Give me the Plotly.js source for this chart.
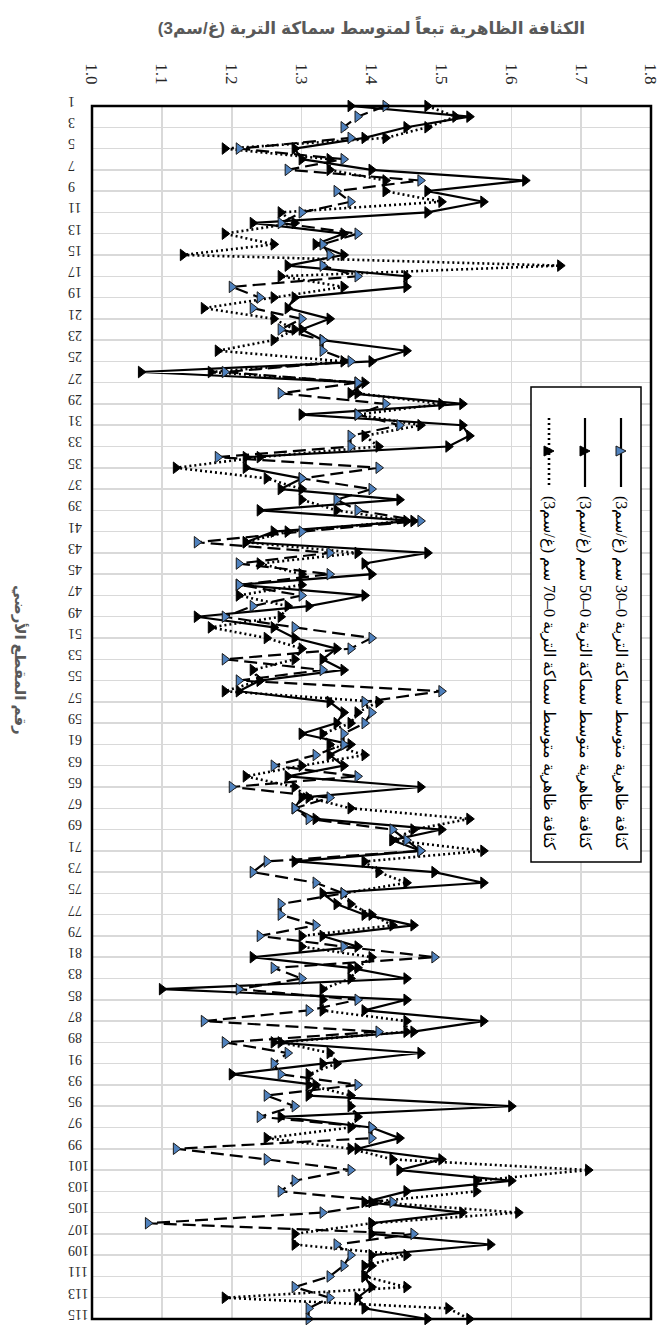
<!DOCTYPE html>
<html>
<head>
<meta charset="utf-8">
<script src="https://cdn.plot.ly/plotly-3.0.1.min.js"></script>
<style>
  html, body { margin: 0; padding: 0; background: #ffffff; }
  #chart { width: 661px; height: 1325px; }
</style>
</head>
<body>
<div id="chart"></div>
<script>
// ---- data ----
const categories = [1,2,3,4,5,6,7,8,9,10,11,12,13,14,15,16,17,18,19,20,
  21,22,23,24,25,26,27,28,29,30,31,32,33,34,35,36,37,38,39,40,
  41,42,43,44,45,46,47,48,49,50,51,52,53,54,55,56,57,58,59,60,
  61,62,63,64,65,66,67,68,69,70,71,72,73,74,75,76,77,78,79,80,
  81,82,83,84,85,86,87,88,89,90,91,92,93,94,95,96,97,98,99,100,
  101,102,103,104,105,106,107,108,109,110,111,112,113,114,115];

const density0_30 = [1.42,1.38,1.36,1.37,1.21,1.36,1.28,1.47,1.35,1.37,
  1.30,1.27,1.38,1.33,1.34,1.33,1.38,1.20,1.24,1.23,
  1.30,1.27,1.33,1.33,1.37,1.19,1.38,1.27,1.42,1.38,
  1.44,1.37,1.37,1.18,1.41,1.30,1.40,1.35,1.38,1.47,
  1.30,1.15,1.34,1.21,1.34,1.21,1.30,1.23,1.19,1.29,
  1.40,1.37,1.19,1.33,1.21,1.50,1.39,1.40,1.39,1.36,
  1.36,1.32,1.26,1.38,1.20,1.34,1.29,1.31,1.43,1.45,
  1.47,1.25,1.23,1.32,1.36,1.27,1.27,1.32,1.24,1.36,
  1.49,1.26,1.30,1.21,1.38,1.31,1.16,1.41,1.19,1.28,
  1.26,1.27,1.38,1.25,1.29,1.24,1.40,1.40,1.12,1.25,
  1.37,1.29,1.27,1.43,1.33,1.08,1.46,1.35,1.37,1.36,
  1.34,1.29,1.34,1.31,1.31];

const density0_50 = [1.37,1.54,1.45,1.39,1.29,1.30,1.40,1.62,1.48,1.56,
  1.48,1.23,1.36,1.32,1.36,1.28,1.45,1.45,1.29,1.28,
  1.34,1.30,1.33,1.45,1.40,1.07,1.39,1.37,1.53,1.30,
  1.53,1.54,1.51,1.22,1.22,1.30,1.27,1.44,1.24,1.46,
  1.26,1.22,1.48,1.39,1.40,1.21,1.39,1.31,1.15,1.26,
  1.29,1.35,1.33,1.36,1.24,1.21,1.34,1.36,1.35,1.30,
  1.37,1.34,1.36,1.28,1.47,1.30,1.29,1.32,1.50,1.43,
  1.47,1.29,1.49,1.56,1.33,1.35,1.39,1.46,1.33,1.38,
  1.23,1.37,1.45,1.10,1.45,1.39,1.56,1.46,1.26,1.47,
  1.33,1.20,1.32,1.31,1.60,1.27,1.40,1.44,1.38,1.50,
  1.44,1.60,1.45,1.39,1.53,1.40,1.40,1.57,1.40,1.40,
  1.39,1.40,1.38,1.39,1.48];

const density0_70 = [1.48,1.52,1.48,1.42,1.19,1.34,1.34,1.42,1.42,1.50,
  1.27,1.29,1.19,1.26,1.13,1.67,1.27,1.36,1.26,1.16,
  1.26,1.29,1.26,1.18,1.36,1.17,1.38,1.38,1.50,1.38,
  1.47,1.39,1.41,1.24,1.12,1.25,1.30,1.30,1.35,1.45,
  1.28,1.22,1.38,1.24,1.30,1.30,1.21,1.28,1.27,1.17,
  1.25,1.30,1.29,1.23,1.24,1.19,1.41,1.38,1.37,1.33,
  1.34,1.39,1.30,1.22,1.29,1.31,1.37,1.54,1.46,1.43,
  1.56,1.39,1.41,1.45,1.36,1.37,1.40,1.43,1.30,1.30,
  1.40,1.38,1.37,1.33,1.33,1.33,1.45,1.45,1.27,1.34,
  1.35,1.31,1.31,1.37,1.37,1.38,1.37,1.25,1.37,1.43,
  1.71,1.55,1.55,1.40,1.61,1.40,1.29,1.29,1.45,1.39,
  1.39,1.45,1.19,1.51,1.54];

const seriesNames = [
  "كثافة ظاهرية متوسط سماكة التربة 0–30 سم (غ/سم3)",
  "كثافة ظاهرية متوسط سماكة التربة 0–50 سم (غ/سم3)",
  "كثافة ظاهرية متوسط سماكة التربة 0–70 سم (غ/سم3)"
];
const valueTicks = [1.0, 1.1, 1.2, 1.3, 1.4, 1.5, 1.6, 1.7, 1.8];
const chartTitle = "الكثافة الظاهرية تبعاً لمتوسط سماكة التربة (غ/سم3)";
const categoryTitle = "رقم المقطع الأرضي";

// ---- helpers ----
const rtl = s => "\u202B" + s + "\u202C";
const categoryTicks = categories.filter(c => c % 2 === 1);

// plot area geometry (pixels)
const W = 661, H = 1325;
const M = {l: 92, r: 10, t: 106, b: 6};
const PW = W - M.l - M.r, PH = H - M.t - M.b;
const px = x => (x - M.l) / PW;
const py = y => 1 - (y - M.t) / PH;

const serif = "Liberation Serif, Times New Roman, DejaVu Serif, serif";
const sans = "Liberation Sans, Arial, DejaVu Sans, sans-serif";

const styles = [
  {dash: "13px,6px", width: 2.2, mfill: "#4f81bd", mline: "#1a1a1a"},
  {dash: "solid", width: 2.2, mfill: "#000000", mline: "#000000"},
  {dash: "2px,3px", width: 2.6, mfill: "#000000", mline: "#000000"}
];
const seriesValues = [density0_30, density0_50, density0_70];

const traces = [2, 1, 0].map(i => ({
  type: "scatter",
  mode: "lines+markers",
  x: seriesValues[i],
  y: categories,
  name: seriesNames[i],
  showlegend: false,
  cliponaxis: false,
  line: {color: "#000000", width: styles[i].width, dash: styles[i].dash},
  marker: {symbol: "triangle-right", size: 10, color: styles[i].mfill,
           line: {color: styles[i].mline, width: 1}}
}));

// ---- manual rotated legend ----
const legendCols = [621, 585, 549];
const shapes = [
  {type: "rect", xref: "paper", yref: "paper", x0: 0, x1: 1, y0: 0, y1: 1,
   line: {color: "#000000", width: 2.5}, layer: "above"},
  {type: "rect", xref: "paper", yref: "paper", x0: px(531), x1: px(641), y0: py(862), y1: py(387),
   line: {color: "#000000", width: 1.5}, fillcolor: "#ffffff", layer: "above"}
];
const annotations = [
  {xref: "paper", yref: "paper", x: px(20), y: py(660), text: rtl(categoryTitle),
   textangle: 90, showarrow: false, xanchor: "center", yanchor: "middle",
   font: {family: sans, size: 15, color: "#595959", weight: "bold"}}
];
legendCols.forEach((cx, i) => {
  shapes.push({type: "line", xref: "paper", yref: "paper", x0: px(cx), x1: px(cx),
    y0: py(418), y1: py(487), line: {color: "#000000", width: styles[i].width,
    dash: i === 0 ? "solid" : styles[i].dash}, layer: "above"});
  shapes.push({type: "path", xref: "paper", yref: "paper", xsizemode: "pixel", ysizemode: "pixel",
    xanchor: px(cx), yanchor: py(451), path: "M-5,-5 L5,0 L-5,5 Z",
    fillcolor: styles[i].mfill, line: {color: styles[i].mline, width: 1}, layer: "above"});
  annotations.push({xref: "paper", yref: "paper", x: px(cx), y: py(673), text: rtl(seriesNames[i]),
    textangle: 90, showarrow: false, xanchor: "center", yanchor: "middle",
    font: {family: serif, size: 16, color: "#000000"}});
});

const layout = {
  width: W, height: H,
  margin: M,
  paper_bgcolor: "#ffffff", plot_bgcolor: "#ffffff",
  showlegend: false,
  title: {text: rtl(chartTitle), x: 0.5, xref: "paper", xanchor: "center",
          y: 1 - 28 / H, yref: "container", yanchor: "middle",
          font: {family: sans, size: 17, color: "#595959", weight: "bold"}},
  xaxis: {side: "top", range: [1.0, 1.8], tickvals: valueTicks, tickformat: ".1f",
          tickangle: 90, showgrid: true, gridcolor: "#d9d9d9", gridwidth: 1.5,
          zeroline: false, showline: false, ticks: "", ticklabelstandoff: 18,
          ticklabeloverflow: "allow",
          tickfont: {family: serif, size: 17, color: "#262626"}, fixedrange: true},
  yaxis: {range: [115, 1], tickvals: categoryTicks, tickangle: 180,
          showgrid: true, gridcolor: "#d9d9d9", gridwidth: 1.5,
          zeroline: false, showline: false, ticks: "", ticklabelstandoff: 23,
          ticklabeloverflow: "allow",
          tickfont: {family: serif, size: 14, color: "#262626"}, fixedrange: true},
  shapes: shapes,
  annotations: annotations
};

Plotly.newPlot("chart", traces, layout, {displayModeBar: false, staticPlot: true});
</script>
</body>
</html>
